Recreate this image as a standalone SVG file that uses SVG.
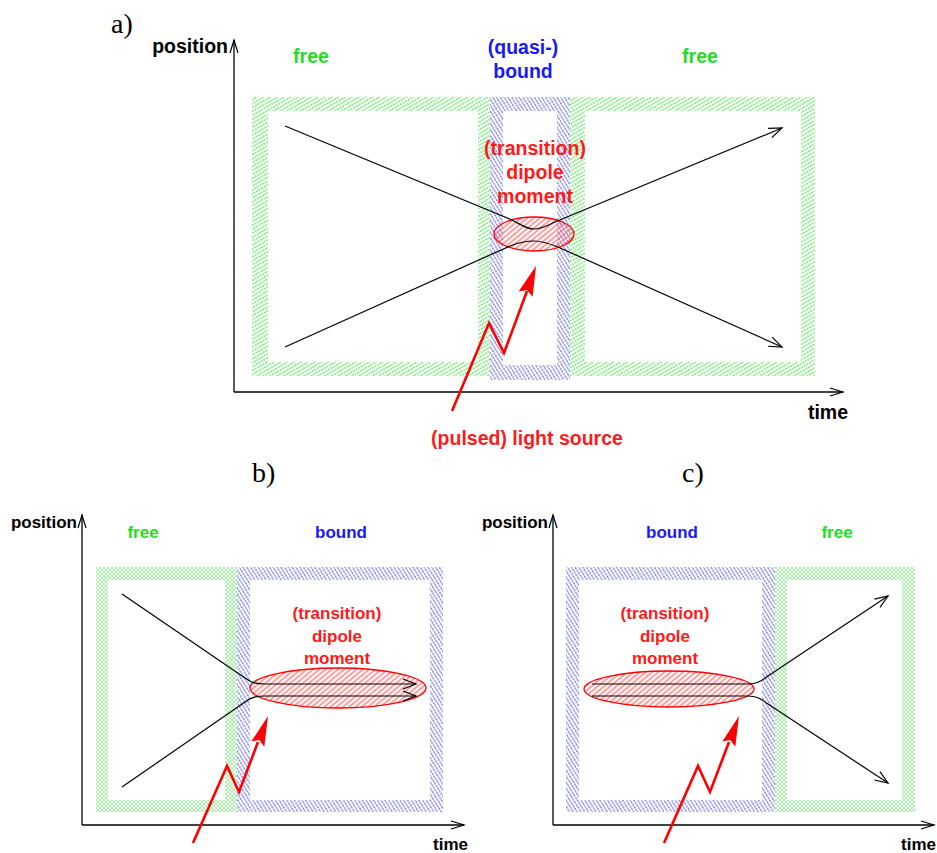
<svg xmlns="http://www.w3.org/2000/svg" width="937" height="853" viewBox="0 0 937 853">
<style>
.lbl{font-family:"Liberation Sans",Arial,sans-serif;font-weight:bold;}
.big{font-size:19.5px;}
.sm{font-size:17px;}
.red{fill:#ff1a1a;}
.grn{fill:#22dd22;}
.blu{fill:#1a1aee;}
.blk{fill:#000;}
.tag{font-family:"Liberation Serif","DejaVu Serif",serif;font-size:28px;fill:#000;}
.ax{stroke:#000;stroke-width:1.3;fill:none;marker-end:url(#axh);}
.crv{stroke:#000;stroke-width:1.2;fill:none;}
.arr{marker-end:url(#opn);}
.bolt{stroke:#ff0000;stroke-width:2.6;fill:none;stroke-linejoin:miter;}
.head{fill:#ff0000;stroke:none;}
.fg{fill:url(#pg);fill-rule:evenodd;}
.fg2{fill:url(#pg2);fill-rule:evenodd;}
.fb{fill:url(#pb);fill-rule:evenodd;}
.ell{fill:url(#pr);stroke:#ff0000;stroke-width:1.3;}
</style>
<defs>
<pattern id="pg" width="6" height="3.4" patternUnits="userSpaceOnUse" patternTransform="rotate(-30)">
<line x1="0" y1="1.7" x2="6" y2="1.7" stroke="#5fe85f" stroke-width="1.1" stroke-dasharray="2.2 0.8"/>
</pattern>
<pattern id="pg2" width="4" height="4" patternUnits="userSpaceOnUse">
<path d="M0,4 L4,0 M-1,1 L1,-1 M3,5 L5,3 M0,0 L4,4 M-1,3 L1,5 M3,-1 L5,1" stroke="#8ef08e" stroke-width="0.8"/>
</pattern>
<pattern id="pb" width="6" height="3.2" patternUnits="userSpaceOnUse" patternTransform="rotate(58)">
<line x1="0" y1="1.6" x2="6" y2="1.6" stroke="#7070e8" stroke-width="1.2" stroke-dasharray="2 0.8"/>
</pattern>
<pattern id="pr" width="8" height="4" patternUnits="userSpaceOnUse" patternTransform="rotate(-40)">
<line x1="0" y1="2" x2="8" y2="2" stroke="#ff5050" stroke-width="1.1"/>
</pattern>
<marker id="opn" markerUnits="userSpaceOnUse" markerWidth="16" markerHeight="12" refX="13" refY="5" orient="auto" overflow="visible">
<path d="M0,0 L13,5 L0,10" fill="none" stroke="#000" stroke-width="1.2"/>
</marker>
<marker id="axh" markerUnits="userSpaceOnUse" markerWidth="16" markerHeight="12" refX="13" refY="4" orient="auto" overflow="visible">
<path d="M0,0 L13,4 L0,8" fill="none" stroke="#000" stroke-width="1.2"/>
</marker>
</defs>

<!-- ===== Panel a ===== -->
<g id="panel-a-frames">
<path id="a-free-left" class="fg" d="M252,97 H490 V376 H252 Z M268,111 V362 H478 V111 Z"/>
<path id="a-free-right" class="fg" d="M570,97 H815 V376 H570 Z M585,111 V362 H801 V111 Z"/>
<path id="a-bound" class="fb" d="M490,97 H570 V380 H490 Z M503,111 V365 H557 V111 Z"/>
</g>
<g id="panel-a-axes">
<line class="ax" x1="234" y1="392" x2="234" y2="40"/>
<line class="ax" x1="234" y1="392" x2="843" y2="392"/>
</g>
<g id="panel-a-dipole">
<ellipse class="ell" cx="534" cy="234" rx="40" ry="17"/>
</g>
<g id="panel-a-labels">
<text class="tag" x="111" y="33">a)</text>
<text class="lbl big blk" x="228" y="53" text-anchor="end">position</text>
<text class="lbl big blk" x="848" y="419" text-anchor="end">time</text>
<text class="lbl big grn" x="311" y="63" text-anchor="middle">free</text>
<text class="lbl big grn" x="700" y="63" text-anchor="middle">free</text>
<text class="lbl big blu" x="523" y="54" text-anchor="middle">(quasi-)</text>
<text class="lbl big blu" x="523" y="78" text-anchor="middle">bound</text>
<text class="lbl big red" x="535" y="155" text-anchor="middle">(transition)</text>
<text class="lbl big red" x="535" y="179" text-anchor="middle">dipole</text>
<text class="lbl big red" x="535" y="203" text-anchor="middle">moment</text>
<text class="lbl big red" x="527" y="445" text-anchor="middle">(pulsed) light source</text>
</g>

<!-- ===== Panel b ===== -->
<g id="panel-b-frames">
<path id="b-free" class="fg2" d="M96,567 H237 V812 H96 Z M108,580 V800 H225 V580 Z"/>
<path id="b-bound" class="fb" d="M237,567 H443 V812 H237 Z M250,580 V800 H430 V580 Z"/>
</g>
<g id="panel-b-axes">
<line class="ax" x1="82" y1="825" x2="82" y2="515"/>
<line class="ax" x1="82" y1="825" x2="464" y2="825"/>
</g>
<g id="panel-b-dipole">
<ellipse class="ell" cx="338" cy="688" rx="88" ry="20"/>
</g>
<g id="panel-b-labels">
<text class="tag" x="252" y="482">b)</text>
<text class="lbl sm blk" x="77" y="528" text-anchor="end">position</text>
<text class="lbl sm blk" x="468" y="850" text-anchor="end">time</text>
<text class="lbl sm grn" x="143" y="538" text-anchor="middle">free</text>
<text class="lbl sm blu" x="341" y="538" text-anchor="middle">bound</text>
<text class="lbl sm red" x="337" y="619" text-anchor="middle">(transition)</text>
<text class="lbl sm red" x="337" y="642" text-anchor="middle">dipole</text>
<text class="lbl sm red" x="337" y="664" text-anchor="middle">moment</text>
</g>

<!-- ===== Panel c ===== -->
<g id="panel-c-frames">
<path id="c-bound" class="fb" d="M566,567 H775 V812 H566 Z M579,580 V800 H762 V580 Z"/>
<path id="c-free" class="fg2" d="M775,567 H915 V812 H775 Z M787,580 V800 H902 V580 Z"/>
</g>
<g id="panel-c-axes">
<line class="ax" x1="553" y1="825" x2="553" y2="515"/>
<line class="ax" x1="553" y1="825" x2="934" y2="825"/>
</g>
<g id="panel-c-dipole">
<ellipse class="ell" cx="669" cy="689" rx="85" ry="18"/>
</g>
<g id="panel-c-labels">
<text class="tag" x="682" y="482">c)</text>
<text class="lbl sm blk" x="548" y="528" text-anchor="end">position</text>
<text class="lbl sm blk" x="936" y="850" text-anchor="end">time</text>
<text class="lbl sm blu" x="672" y="538" text-anchor="middle">bound</text>
<text class="lbl sm grn" x="837" y="538" text-anchor="middle">free</text>
<text class="lbl sm red" x="665" y="619" text-anchor="middle">(transition)</text>
<text class="lbl sm red" x="665" y="642" text-anchor="middle">dipole</text>
<text class="lbl sm red" x="665" y="664" text-anchor="middle">moment</text>
</g>

<!-- ===== Connectors ===== -->
<g id="connectors">
<path class="crv arr" d="M285,126 L512,220 C522,225 526,229 534,229 C542,229 546,226 555,222 L782,128"/>
<path class="crv arr" d="M285,347 L510,246 C520,242 526,241 534,241 C542,241 548,243 558,247 L782,347"/>
<path class="crv arr" d="M122,594 L245,678 C252,683 256,684 265,684 L416,684"/>
<path class="crv arr" d="M122,787 L245,702 C252,697 256,696 265,696 L416,696"/>
<path class="crv" d="M592,684 L748,684 C756,684 760,682 768,676"/>
<path class="crv arr" d="M768,676 L888,596"/>
<path class="crv" d="M592,696 L748,696 C756,696 760,698 768,704"/>
<path class="crv arr" d="M768,704 L888,783"/>

<path class="bolt" d="M452,411 L489,323 L504,353 L527,291"/>
<path class="head" d="M536,266 L518.6,291.5 L527,290 L532.6,296.7 Z"/>
<path class="bolt" d="M193,843 L227,766 L239,792 L258,742"/>
<path class="head" d="M268,716 L251.3,741.5 L259.3,740 L264.3,746.7 Z"/>
<path class="bolt" d="M664,843 L698,766 L710,792 L729,742"/>
<path class="head" d="M739,716 L722.3,741.5 L730.3,740 L735.3,746.7 Z"/>
</g>
</svg>
